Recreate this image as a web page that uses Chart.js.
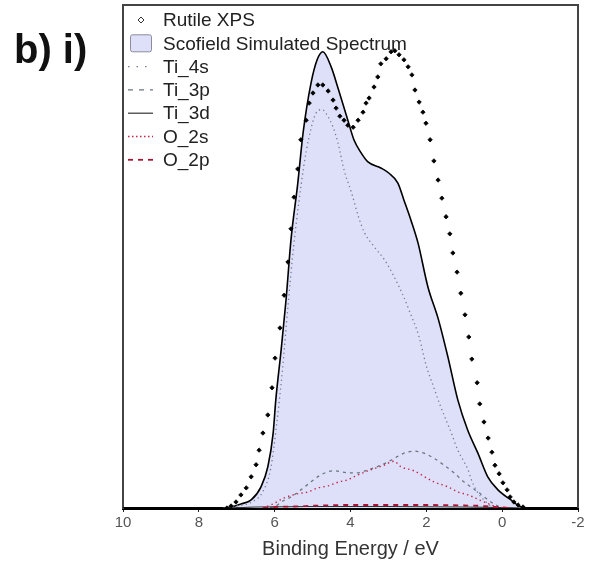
<!DOCTYPE html>
<html>
<head>
<meta charset="utf-8">
<title>Rutile valence band</title>
<script src="https://cdn.jsdelivr.net/npm/chart.js@4.4.1/dist/chart.umd.min.js"></script>
<style>
  body { margin: 0; background: #fff; }
  #wrap { position: relative; width: 589px; height: 568px; }
  #panel {
    position: absolute; left: 14px; top: 29px;
    font: bold 40px "Liberation Sans", Arial, sans-serif; line-height: 40px;
    color: #111;
  }
</style>
</head>
<body>
<div id="wrap">
  <canvas id="vbChart" width="589" height="568"></canvas>
  <div id="panel">b) i)</div>
</div>
<script>
// Measured valence band (Rutile XPS) ------------------------------------------
const xpsEnergy = [7.26, 7.15, 7.02, 6.89, 6.75, 6.62, 6.49, 6.41, 6.31, 6.18, 6.07, 5.99, 5.86, 5.75, 5.65,
  5.57, 5.49, 5.39, 5.31, 5.17, 5.09, 4.99, 4.86, 4.73, 4.59, 4.46, 4.38, 4.28, 4.17, 4.07, 3.93, 3.80,
  3.67, 3.59, 3.51, 3.38, 3.28, 3.20, 3.06, 2.93, 2.83, 2.72, 2.59, 2.48, 2.38, 2.30, 2.19, 2.09, 2.01,
  1.90, 1.80, 1.69, 1.59, 1.48, 1.38, 1.30, 1.19, 1.09, 0.98, 0.88, 0.80, 0.66, 0.59, 0.48, 0.37, 0.27,
  0.19, 0.08, -0.02, -0.13, -0.21, -0.31, -0.42, -0.55];
const xpsIntensity = [0, 0.004, 0.012, 0.026, 0.040, 0.062, 0.086, 0.115, 0.149, 0.185, 0.239, 0.298, 0.358, 0.423, 0.489,
  0.555, 0.618, 0.674, 0.732, 0.771, 0.805, 0.825, 0.841, 0.841, 0.829, 0.811, 0.795, 0.779, 0.771, 0.761, 0.757, 0.771,
  0.787, 0.805, 0.815, 0.837, 0.857, 0.883, 0.893, 0.907, 0.909, 0.901, 0.891, 0.877, 0.861, 0.831, 0.807, 0.787, 0.765,
  0.732, 0.690, 0.652, 0.616, 0.579, 0.545, 0.507, 0.469, 0.427, 0.384, 0.340, 0.296, 0.249, 0.207, 0.171, 0.139, 0.111,
  0.085, 0.068, 0.050, 0.036, 0.022, 0.012, 0.006, 0.002];

// Scofield simulated spectrum (total) -----------------------------------------
const simEnergy = [10, 7.40, 7.15, 6.89, 6.62, 6.36, 6.18, 6.04, 5.97, 5.83, 5.70, 5.57, 5.39, 5.25, 5.04, 4.88,
  4.73, 4.51, 4.33, 4.07, 3.91, 3.72, 3.54, 3.20, 2.99, 2.75, 2.59, 2.41, 2.22, 1.96, 1.69, 1.43, 1.17,
  0.91, 0.64, 0.38, 0.11, -0.23, -0.50, -0.75, -2];
const simIntensity = [0, 0, 0.002, 0.008, 0.016, 0.042, 0.082, 0.149, 0.215, 0.314, 0.414, 0.533, 0.646, 0.746, 0.845, 0.891,
  0.907, 0.877, 0.835, 0.771, 0.732, 0.706, 0.688, 0.676, 0.666, 0.646, 0.612, 0.573, 0.527, 0.440, 0.377, 0.300, 0.215,
  0.155, 0.109, 0.062, 0.036, 0.016, 0.002, 0, 0];

// Partial contributions --------------------------------------------------------
const ti4sEnergy = [7.35, 7.0, 6.6, 6.3, 6.1, 5.95, 5.8, 5.65, 5.5, 5.23, 5.1, 4.91, 4.75, 4.65, 4.46, 4.33, 4.17,
  3.97, 3.79, 3.63, 3.37, 3.10, 2.90, 2.64, 2.46, 2.19, 2.01, 1.80, 1.61, 1.48, 1.35, 1.17, 1.03, 0.90,
  0.82, 0.69, 0.48, 0.24, 0.0];
const ti4sIntensity = [0, 0.004, 0.012, 0.034, 0.080, 0.165, 0.270, 0.400, 0.520, 0.680, 0.735, 0.785, 0.792, 0.785, 0.757, 0.726, 0.672,
  0.626, 0.579, 0.547, 0.519, 0.493, 0.467, 0.427, 0.394, 0.340, 0.285, 0.239, 0.199, 0.175, 0.151, 0.115, 0.095, 0.076,
  0.058, 0.036, 0.016, 0.002, 0];

const ti3pEnergy = [6.31, 6.02, 5.83, 5.57, 5.31, 5.04, 4.78, 4.44, 4.07, 3.80, 3.54, 3.20, 2.93, 2.59, 2.33, 2.06,
  1.80, 1.53, 1.27, 1.01, 0.64, 0.37, 0.11, -0.15];
const ti3pIntensity = [0, 0.002, 0.012, 0.022, 0.036, 0.052, 0.066, 0.074, 0.070, 0.070, 0.076, 0.085, 0.095, 0.109, 0.113, 0.109,
  0.099, 0.085, 0.070, 0.052, 0.032, 0.016, 0.004, 0];

const ti3dEnergy = [7.2, 6.5, 5.0, 3.0, 1.0, 0.0, -0.5];
const ti3dIntensity = [0, 0.002, 0.003, 0.003, 0.002, 0.001, 0];

const o2sEnergy = [6.31, 6.10, 5.75, 5.41, 5.12, 4.86, 4.59, 4.30, 4.07, 3.80, 3.46, 3.12, 2.85, 2.67, 2.33, 1.80,
  1.43, 1.17, 0.90, 0.48, 0.11, -0.10];
const o2sIntensity = [0, 0.006, 0.020, 0.028, 0.032, 0.040, 0.044, 0.052, 0.056, 0.066, 0.076, 0.085, 0.093, 0.082, 0.074, 0.052,
  0.042, 0.032, 0.026, 0.012, 0.002, 0];

const o2pEnergy = [6.3, 6.0, 5.5, 4.8, 4.0, 3.0, 2.0, 1.0, 0.5, 0.2, -0.2];
const o2pIntensity = [0, 0.002, 0.003, 0.005, 0.006, 0.006, 0.006, 0.005, 0.004, 0.002, 0];

const energyTicks = [10, 8, 6, 4, 2, 0, -2];

const toPoints = (xs, ys) => xs.map((x, i) => ({ x: x, y: ys[i] }));

const FONT = '"Liberation Sans", Arial, sans-serif';
const LAVENDER = 'rgb(221, 224, 248)';

// legend drawn inside the plot area, top-left ---------------------------------
const insideLegend = {
  id: 'insideLegend',
  afterDraw(chart) {
    const ctx = chart.ctx;
    const x0 = 128, x1 = 153, textX = 163, top = 20, step = 23.3;
    ctx.save();
    ctx.font = '19px ' + FONT;
    ctx.textBaseline = 'middle';
    chart.data.datasets.forEach((ds, i) => {
      const y = top + i * step;
      if (ds.showLine === false) {
        ctx.beginPath();
        ctx.moveTo(141, y - 3); ctx.lineTo(144, y); ctx.lineTo(141, y + 3); ctx.lineTo(138, y);
        ctx.closePath();
        ctx.fillStyle = '#fff';
        ctx.fill();
        ctx.lineWidth = 1;
        ctx.strokeStyle = '#333';
        ctx.stroke();
      } else if (ds.fill) {
        ctx.beginPath();
        ctx.roundRect(130.5, y - 8.5, 21, 17, 2);
        ctx.fillStyle = ds.backgroundColor;
        ctx.fill();
        ctx.lineWidth = 1;
        ctx.strokeStyle = '#8c8c9c';
        ctx.stroke();
      } else {
        ctx.beginPath();
        ctx.setLineDash(ds.legendDash || []);
        ctx.moveTo(x0, y); ctx.lineTo(x1, y);
        ctx.lineWidth = ds.borderWidth;
        ctx.strokeStyle = ds.borderColor;
        ctx.stroke();
        ctx.setLineDash([]);
      }
      ctx.fillStyle = '#222';
      ctx.fillText(ds.label, textX, y + 1);
    });
    ctx.restore();
  }
};

// top and right edges of the plot box
const frame = {
  id: 'frame',
  afterDatasetsDraw(chart) {
    const { ctx, chartArea: a } = chart;
    ctx.save();
    ctx.strokeStyle = '#444';
    ctx.lineWidth = 2;
    ctx.beginPath();
    ctx.moveTo(a.left, a.top);
    ctx.lineTo(a.right, a.top);
    ctx.lineTo(a.right, a.bottom);
    ctx.stroke();
    ctx.restore();
  }
};

const lineDefaults = { pointRadius: 0, fill: false, cubicInterpolationMode: 'monotone' };

const vbCtx = document.getElementById('vbChart').getContext('2d');
new Chart(vbCtx, {
  type: 'line',
  data: {
    datasets: [
      {
        label: 'Rutile XPS',
        data: toPoints(xpsEnergy, xpsIntensity),
        showLine: false,
        pointStyle: 'rectRot',
        pointRadius: 2.2,
        pointBorderWidth: 0.8,
        pointBackgroundColor: '#000',
        pointBorderColor: '#000',
        order: 0
      },
      {
        label: 'Scofield Simulated Spectrum',
        data: toPoints(simEnergy, simIntensity),
        fill: 'origin',
        backgroundColor: LAVENDER,
        borderColor: '#000',
        borderWidth: 1.6,
        pointRadius: 0,
        cubicInterpolationMode: 'monotone',
        order: 10
      },
      {
        ...lineDefaults,
        label: 'Ti_4s',
        data: toPoints(ti4sEnergy, ti4sIntensity),
        borderColor: 'rgb(118, 124, 150)',
        borderWidth: 1.3,
        borderDash: [1.3, 3.2],
        legendDash: [1.5, 7],
        order: 5
      },
      {
        ...lineDefaults,
        label: 'Ti_3p',
        data: toPoints(ti3pEnergy, ti3pIntensity),
        borderColor: 'rgb(105, 118, 128)',
        borderWidth: 1.3,
        borderDash: [3, 4],
        legendDash: [5, 6],
        order: 4
      },
      {
        ...lineDefaults,
        label: 'Ti_3d',
        data: toPoints(ti3dEnergy, ti3dIntensity),
        borderColor: '#333',
        borderWidth: 1.2,
        order: 3
      },
      {
        ...lineDefaults,
        label: 'O_2s',
        data: toPoints(o2sEnergy, o2sIntensity),
        borderColor: 'rgb(196, 36, 72)',
        borderWidth: 1.4,
        borderDash: [1.4, 3.2],
        legendDash: [1.5, 2.5],
        order: 2
      },
      {
        ...lineDefaults,
        label: 'O_2p',
        data: toPoints(o2pEnergy, o2pIntensity),
        borderColor: 'rgb(170, 20, 50)',
        borderWidth: 1.8,
        borderDash: [5, 5],
        legendDash: [5, 5],
        order: 1
      }
    ]
  },
  options: {
    responsive: false,
    animation: false,
    events: [],
    devicePixelRatio: 1,
    layout: { padding: { left: 123, right: 11, top: 5, bottom: 0 } },
    plugins: {
      legend: { display: false },
      tooltip: { enabled: false }
    },
    scales: {
      x: {
        type: 'linear',
        reverse: true,
        min: -2,
        max: 10,
        z: 1,
        afterFit: (scale) => { scale.height = 60; },
        afterBuildTicks: (scale) => { scale.ticks = energyTicks.map(v => ({ value: v })); },
        ticks: {
          padding: 2,
          color: '#555',
          font: { family: FONT, size: 15 }
        },
        grid: {
          drawOnChartArea: false,
          drawTicks: true,
          tickLength: 4,
          tickColor: '#222'
        },
        border: { color: '#000', width: 3 },
        title: {
          display: true,
          text: 'Binding Energy / eV',
          color: '#333',
          font: { family: FONT, size: 20 },
          padding: { top: 0, bottom: 7 }
        }
      },
      y: {
        min: 0,
        max: 1,
        afterFit: (scale) => { scale.width = 0; },
        ticks: { display: false },
        grid: { display: false, drawTicks: false },
        border: { color: '#444', width: 2 }
      }
    }
  },
  plugins: [insideLegend, frame]
});
</script>
</body>
</html>
